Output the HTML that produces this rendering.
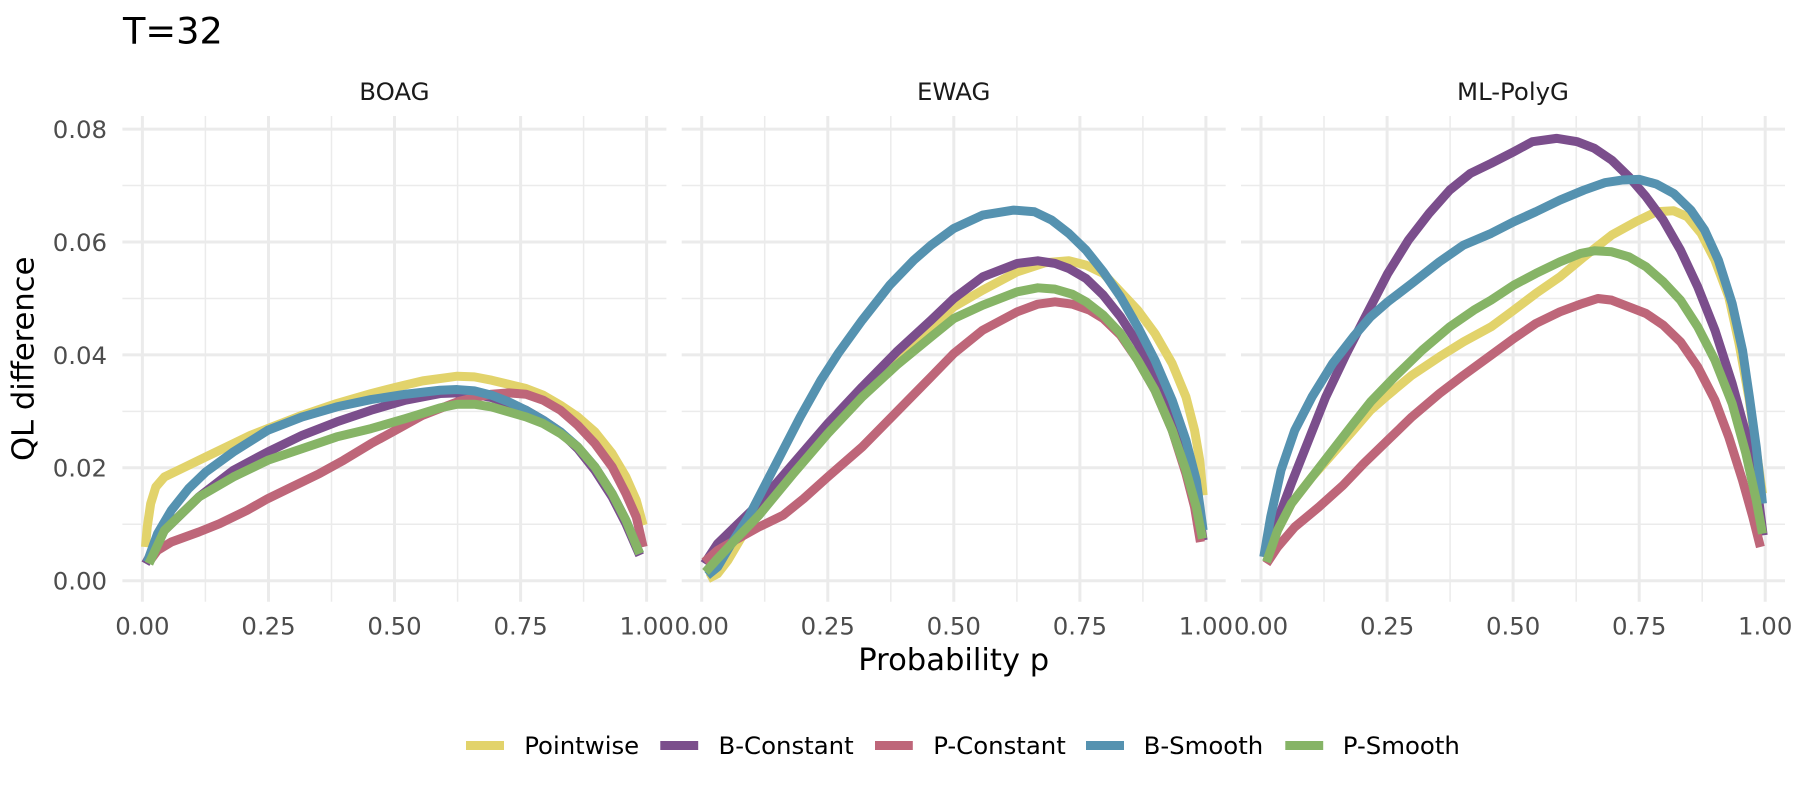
<!DOCTYPE html>
<html><head><meta charset="utf-8"><style>
html,body{margin:0;padding:0;background:#fff;}
svg{display:block;}
text{font-family:"DejaVu Sans","Liberation Sans",sans-serif;}
</style></head><body>
<svg width="1800" height="800" viewBox="0 0 1800 800" xmlns="http://www.w3.org/2000/svg">
<rect width="1800" height="800" fill="#fff"/>
<!-- minor grid -->
<g stroke="#ebebeb" stroke-width="1.5" fill="none">
<path d="M122.4 524.25H666.4M122.4 411.35H666.4M122.4 298.45H666.4M122.4 185.55H666.4
M681.7 524.25H1225.7M681.7 411.35H1225.7M681.7 298.45H1225.7M681.7 185.55H1225.7
M1241 524.25H1785M1241 411.35H1785M1241 298.45H1785M1241 185.55H1785
M205.4 116V601.7M331.5 116V601.7M457.6 116V601.7M583.6 116V601.7
M764.7 116V601.7M890.8 116V601.7M1016.9 116V601.7M1142.9 116V601.7
M1324 116V601.7M1450.1 116V601.7M1576.2 116V601.7M1702.2 116V601.7"/>
</g>
<!-- major grid -->
<g stroke="#ebebeb" stroke-width="3" fill="none">
<path d="M122.4 580.7H666.4M122.4 467.8H666.4M122.4 354.9H666.4M122.4 242H666.4M122.4 129.1H666.4
M681.7 580.7H1225.7M681.7 467.8H1225.7M681.7 354.9H1225.7M681.7 242H1225.7M681.7 129.1H1225.7
M1241 580.7H1785M1241 467.8H1785M1241 354.9H1785M1241 242H1785M1241 129.1H1785
M142.4 116V601.7M268.5 116V601.7M394.5 116V601.7M520.6 116V601.7M646.6 116V601.7
M701.7 116V601.7M827.8 116V601.7M953.8 116V601.7M1079.9 116V601.7M1205.9 116V601.7
M1261 116V601.7M1387.1 116V601.7M1513.1 116V601.7M1639.2 116V601.7M1765.2 116V601.7"/>
</g>

<!-- Panel 1: BOAG -->
<g transform="translate(130,110) scale(0.3444,0.3336)" fill="none" stroke-linejoin="round" stroke-linecap="butt">
<polyline vector-effect="non-scaling-stroke" stroke="#E2D36B" stroke-width="9" points="45,1310 50,1250 60,1180 75,1130 100,1100 150,1075 220,1040 290,1005 350,975 400,955 500,915 600,880 700,850 768,832 850,812 950,798 1000,800 1050,810 1150,835 1200,855 1250,885 1300,920 1350,965 1400,1030 1440,1100 1470,1170 1490,1245"/>
<polyline vector-effect="non-scaling-stroke" stroke="#7B4E8C" stroke-width="9" points="45,1360 100,1260 200,1160 300,1080 400,1025 500,975 600,935 700,900 800,870 900,850 950,848 1000,852 1050,862 1100,880 1150,900 1200,930 1250,965 1300,1015 1350,1080 1400,1160 1440,1240 1480,1335"/>
<polyline vector-effect="non-scaling-stroke" stroke="#BE6679" stroke-width="9" points="55,1355 80,1320 120,1295 200,1265 260,1240 340,1200 400,1165 470,1130 550,1090 620,1050 700,1000 780,955 850,915 900,895 950,875 1000,862 1050,852 1100,848 1150,852 1200,870 1250,900 1300,945 1350,1000 1400,1070 1440,1150 1470,1220 1490,1310"/>
<polyline vector-effect="non-scaling-stroke" stroke="#5592B0" stroke-width="9" points="50,1355 80,1270 120,1200 170,1135 220,1085 300,1025 400,960 500,920 600,890 700,868 800,852 900,840 950,838 1000,842 1050,855 1100,875 1150,900 1200,930 1250,965 1300,1010 1350,1070 1400,1150 1440,1230 1480,1330"/>
<polyline vector-effect="non-scaling-stroke" stroke="#86B466" stroke-width="9" points="55,1360 100,1260 200,1160 300,1100 400,1050 500,1015 600,980 700,955 800,925 900,893 950,882 1000,882 1050,890 1100,905 1150,920 1200,940 1250,970 1300,1010 1350,1070 1400,1150 1440,1230 1480,1330"/>
</g>

<!-- Panel 2: EWAG -->
<g transform="translate(690,110) scale(0.3444,0.3336)" fill="none" stroke-linejoin="round" stroke-linecap="butt">
<polyline vector-effect="non-scaling-stroke" stroke="#E2D36B" stroke-width="9" points="52,1405 80,1390 110,1350 150,1280 200,1210 300,1080 400,960 500,840 600,745 700,650 766,590 850,540 950,485 1030,458 1100,452 1150,465 1200,490 1250,545 1300,600 1350,670 1400,760 1440,860 1465,960 1480,1050 1490,1155"/>
<polyline vector-effect="non-scaling-stroke" stroke="#7B4E8C" stroke-width="9" points="42,1360 80,1300 130,1250 200,1180 300,1060 400,940 500,830 600,725 700,630 766,565 850,500 950,460 1010,452 1060,460 1100,475 1150,505 1200,555 1250,620 1300,700 1350,800 1400,920 1440,1050 1470,1160 1490,1290"/>
<polyline vector-effect="non-scaling-stroke" stroke="#BE6679" stroke-width="9" points="42,1355 80,1320 130,1290 200,1250 270,1215 330,1165 400,1100 500,1010 600,905 700,800 766,730 850,660 950,605 1010,582 1060,575 1110,582 1160,600 1200,625 1250,675 1300,750 1350,840 1400,960 1440,1090 1465,1190 1482,1295"/>
<polyline vector-effect="non-scaling-stroke" stroke="#5592B0" stroke-width="9" points="50,1395 80,1370 120,1300 170,1220 220,1120 270,1020 320,920 380,810 430,730 500,630 580,525 650,450 700,405 766,355 850,315 940,300 1000,305 1050,330 1100,370 1150,420 1200,485 1250,560 1300,650 1350,750 1400,870 1440,990 1470,1110 1490,1260"/>
<polyline vector-effect="non-scaling-stroke" stroke="#86B466" stroke-width="9" points="45,1385 80,1345 130,1290 200,1215 300,1090 400,970 500,860 600,765 700,680 766,625 850,585 950,545 1010,533 1060,537 1110,552 1150,575 1200,615 1250,670 1300,750 1350,840 1400,960 1440,1080 1470,1190 1488,1285"/>
</g>

<!-- Panel 3: ML-PolyG -->
<g transform="translate(1250,110) scale(0.3444,0.3336)" fill="none" stroke-linejoin="round" stroke-linecap="butt">
<polyline vector-effect="non-scaling-stroke" stroke="#E2D36B" stroke-width="9" points="50,1350 80,1260 120,1180 180,1100 240,1030 300,960 350,900 400,855 470,795 550,740 620,695 700,650 766,600 830,550 900,500 970,440 1050,375 1120,335 1180,305 1230,302 1270,320 1310,370 1350,450 1390,560 1420,700 1450,870 1470,1020 1488,1150"/>
<polyline vector-effect="non-scaling-stroke" stroke="#7B4E8C" stroke-width="9" points="40,1340 80,1230 120,1120 170,990 220,860 280,730 340,610 400,490 460,390 520,310 580,240 640,190 700,160 766,125 820,95 890,85 950,95 1000,115 1050,150 1100,200 1150,260 1200,330 1250,420 1300,530 1350,660 1400,820 1440,970 1470,1110 1490,1275"/>
<polyline vector-effect="non-scaling-stroke" stroke="#BE6679" stroke-width="9" points="48,1360 80,1310 130,1250 200,1190 270,1125 330,1060 400,990 470,920 550,850 620,795 700,735 766,685 830,640 900,605 960,582 1010,565 1050,570 1100,590 1150,610 1200,645 1250,695 1300,770 1350,870 1390,980 1430,1110 1460,1220 1482,1310"/>
<polyline vector-effect="non-scaling-stroke" stroke="#5592B0" stroke-width="9" points="40,1340 60,1220 90,1080 130,960 180,860 240,760 300,680 350,620 400,575 470,520 550,455 620,405 700,370 766,335 830,305 900,270 970,240 1030,218 1080,210 1130,208 1180,222 1230,250 1280,300 1320,360 1360,450 1400,580 1430,720 1450,860 1470,1010 1488,1180"/>
<polyline vector-effect="non-scaling-stroke" stroke="#86B466" stroke-width="9" points="48,1355 80,1260 120,1180 180,1100 240,1020 300,940 350,875 420,800 500,720 580,650 650,600 700,570 766,525 830,490 900,455 960,430 1000,422 1050,425 1100,440 1150,470 1200,515 1250,570 1300,650 1350,750 1400,880 1440,1030 1470,1170 1488,1270"/>
</g>

<!-- Title -->
<text x="123" y="43.3" font-size="36.7" fill="#000">T=32</text>

<!-- Strip labels -->
<g font-size="24.4" fill="#1a1a1a" text-anchor="middle">
<text x="394.4" y="100">BOAG</text>
<text x="953.7" y="100">EWAG</text>
<text x="1513" y="100">ML-PolyG</text>
</g>

<!-- Y tick labels -->
<g font-size="24.4" fill="#4d4d4d" text-anchor="end">
<text x="107" y="589.6">0.00</text>
<text x="107" y="476.7">0.02</text>
<text x="107" y="363.8">0.04</text>
<text x="107" y="250.9">0.06</text>
<text x="107" y="138">0.08</text>
</g>

<!-- X tick labels -->
<g font-size="24.4" fill="#4d4d4d" text-anchor="middle">
<text x="142.4" y="634.3">0.00</text>
<text x="268.5" y="634.3">0.25</text>
<text x="394.5" y="634.3">0.50</text>
<text x="520.6" y="634.3">0.75</text>
<text x="646.6" y="634.3">1.00</text>
<text x="701.7" y="634.3">0.00</text>
<text x="827.8" y="634.3">0.25</text>
<text x="953.8" y="634.3">0.50</text>
<text x="1079.9" y="634.3">0.75</text>
<text x="1205.9" y="634.3">1.00</text>
<text x="1261" y="634.3">0.00</text>
<text x="1387.1" y="634.3">0.25</text>
<text x="1513.1" y="634.3">0.50</text>
<text x="1639.2" y="634.3">0.75</text>
<text x="1765.2" y="634.3">1.00</text>
</g>

<!-- Axis titles -->
<text x="953.7" y="670" font-size="30.6" fill="#000" text-anchor="middle">Probability p</text>
<text transform="translate(33.3,358.8) rotate(-90)" font-size="30.6" fill="#000" text-anchor="middle">QL difference</text>

<!-- Legend -->
<g stroke-width="9" stroke-linecap="butt">
<line x1="466" y1="745.5" x2="504" y2="745.5" stroke="#E2D36B"/>
<line x1="660.3" y1="745.5" x2="698.2" y2="745.5" stroke="#7B4E8C"/>
<line x1="875" y1="745.5" x2="912.8" y2="745.5" stroke="#BE6679"/>
<line x1="1086" y1="745.5" x2="1124" y2="745.5" stroke="#5592B0"/>
<line x1="1285.3" y1="745.5" x2="1323.2" y2="745.5" stroke="#86B466"/>
</g>
<g font-size="24.4" fill="#000">
<text x="524.2" y="754">Pointwise</text>
<text x="718.5" y="754">B-Constant</text>
<text x="933.2" y="754">P-Constant</text>
<text x="1143.6" y="754">B-Smooth</text>
<text x="1342.8" y="754">P-Smooth</text>
</g>
</svg>
</body></html>
